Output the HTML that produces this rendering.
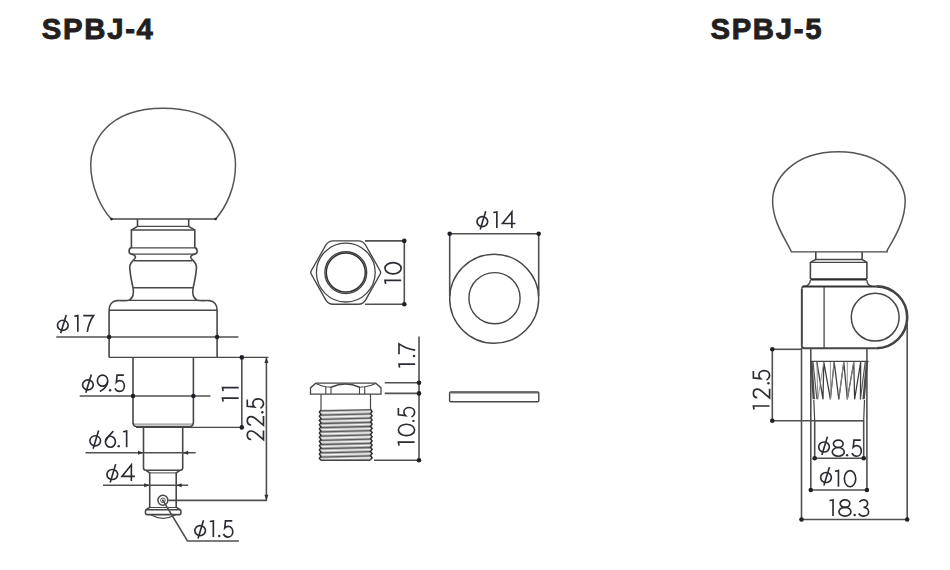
<!DOCTYPE html>
<html><head><meta charset="utf-8">
<style>
html,body{margin:0;padding:0;background:#fff;width:950px;height:570px;overflow:hidden}
svg{position:absolute;left:0;top:0}
text{font-family:"Liberation Sans",sans-serif}
</style></head><body>
<svg width="950" height="570" viewBox="0 0 950 570">
<text x="41.8" y="38.5" font-size="29.3" font-weight="bold" fill="#231f20" stroke="#231f20" stroke-width="0.9" letter-spacing="1.7">SPBJ-4</text>
<text x="710.4" y="38.5" font-size="29.3" font-weight="bold" fill="#231f20" stroke="#231f20" stroke-width="0.9" letter-spacing="1.7">SPBJ-5</text>
<path d="M111.3,219.1 C101,208 90.7,187 90.7,164.0 C90.7,145 105,108.2 163.2,108.2 C218.2,108.2 235.5,139 235.5,165.0 C235.5,188 226,207 215.8,218.9" fill="none" stroke="#555" stroke-width="1.50" />
<line x1="111.30" y1="219.00" x2="215.50" y2="219.00" stroke="#464646" stroke-width="1.30"/>
<circle cx="111.50" cy="219.10" r="1.30" fill="#1e2228"/>
<circle cx="215.60" cy="219.00" r="1.30" fill="#1e2228"/>
<path d="M137.50,219.00 L137.50,226.40 L131.40,230.00 L131.40,247.90" fill="none" stroke="#464646" stroke-width="1.60" />
<path d="M188.70,219.00 L188.70,226.40 L194.80,230.00 L194.80,247.90" fill="none" stroke="#464646" stroke-width="1.60" />
<line x1="137.50" y1="226.40" x2="188.70" y2="226.40" stroke="#474747" stroke-width="1.40"/>
<line x1="131.40" y1="230.00" x2="194.80" y2="230.00" stroke="#474747" stroke-width="1.40"/>
<path d="M131.4,247.9 C128.6,248.2 127.9,253.6 131.6,254.1 C134.6,254.6 136.2,256.4 135.0,258.4 C133.6,260.4 129.8,262.8 129.7,267" fill="none" stroke="#464646" stroke-width="1.60" />
<path d="M131.4,247.9 C128.6,248.2 127.9,253.6 131.6,254.1 C134.6,254.6 136.2,256.4 135.0,258.4 C133.6,260.4 129.8,262.8 129.7,267" fill="none" stroke="#464646" stroke-width="1.60" transform="translate(326.20,0) scale(-1,1)"/>
<line x1="131.40" y1="247.90" x2="194.80" y2="247.90" stroke="#474747" stroke-width="1.40"/>
<line x1="131.80" y1="254.10" x2="194.40" y2="254.10" stroke="#474747" stroke-width="1.40"/>
<line x1="134.00" y1="260.70" x2="192.20" y2="260.70" stroke="#474747" stroke-width="1.40"/>
<path d="M129.7,267 C130.2,276 132,283 133,287.7 C133.8,292 133.8,297.5 129.5,300 C127,301 122,300.4 117,300.6 C112,301 109.1,305 109.1,310.2 L109.1,357.4" fill="none" stroke="#464646" stroke-width="1.60" />
<path d="M129.7,267 C130.2,276 132,283 133,287.7 C133.8,292 133.8,297.5 129.5,300 C127,301 122,300.4 117,300.6 C112,301 109.1,305 109.1,310.2 L109.1,357.4" fill="none" stroke="#464646" stroke-width="1.60" transform="translate(326.20,0) scale(-1,1)"/>
<line x1="133.00" y1="287.70" x2="193.20" y2="287.70" stroke="#474747" stroke-width="1.40"/>
<line x1="129.50" y1="300.40" x2="196.70" y2="300.40" stroke="#474747" stroke-width="1.40"/>
<line x1="109.10" y1="310.20" x2="217.10" y2="310.20" stroke="#474747" stroke-width="1.40"/>
<line x1="109.10" y1="357.40" x2="268.40" y2="357.40" stroke="#464646" stroke-width="1.20"/>
<line x1="56.30" y1="337.00" x2="238.40" y2="337.00" stroke="#505050" stroke-width="1.60"/>
<circle cx="109.10" cy="337.00" r="2.30" fill="#1e2228"/>
<circle cx="217.10" cy="337.00" r="2.30" fill="#1e2228"/>
<path d="M133,357.4 L133,422.5 Q133,426 136,426.5 L190.2,426.5 Q193.4,426 193.4,422.5 L193.4,357.4" fill="none" stroke="#464646" stroke-width="1.60" />
<line x1="134.00" y1="424.10" x2="192.40" y2="424.10" stroke="#666" stroke-width="0.90"/>
<line x1="136.00" y1="427.40" x2="243.00" y2="427.40" stroke="#464646" stroke-width="1.10"/>
<line x1="79.70" y1="396.00" x2="210.50" y2="396.00" stroke="#505050" stroke-width="1.60"/>
<circle cx="133.00" cy="396.00" r="2.30" fill="#1e2228"/>
<circle cx="193.40" cy="396.00" r="2.30" fill="#1e2228"/>
<line x1="241.80" y1="357.40" x2="241.80" y2="427.40" stroke="#505050" stroke-width="1.60"/>
<circle cx="241.80" cy="357.40" r="2.30" fill="#1e2228"/>
<circle cx="241.80" cy="427.40" r="2.30" fill="#1e2228"/>
<line x1="266.40" y1="357.40" x2="266.40" y2="500.40" stroke="#505050" stroke-width="1.60"/>
<polygon points="266.40,357.60 264.40,363.10 268.40,363.10" fill="#333"/>
<polygon points="266.40,500.20 264.40,494.70 268.40,494.70" fill="#333"/>
<line x1="168.50" y1="500.40" x2="267.00" y2="500.40" stroke="#505050" stroke-width="1.60"/>
<path d="M143.5,427.4 L143.5,467.8 Q143.5,470.3 146,470.3 L180.1,470.3 Q182.7,470.3 182.7,467.8 L182.7,427.4" fill="none" stroke="#464646" stroke-width="1.60" />
<line x1="85.50" y1="452.80" x2="195.70" y2="452.80" stroke="#505050" stroke-width="1.60"/>
<polygon points="143.50,452.80 138.00,450.80 138.00,454.80" fill="#333"/>
<polygon points="182.70,452.80 188.20,450.80 188.20,454.80" fill="#333"/>
<path d="M146,470.3 L149.7,472.9 L149.7,507.4 L146,509.7" fill="none" stroke="#464646" stroke-width="1.60" />
<path d="M180.1,470.3 L176.2,472.9 L176.2,507.4 L180.3,509.7" fill="none" stroke="#464646" stroke-width="1.60" />
<line x1="149.70" y1="472.90" x2="176.20" y2="472.90" stroke="#474747" stroke-width="1.00"/>
<line x1="149.70" y1="507.50" x2="176.20" y2="507.50" stroke="#474747" stroke-width="1.00"/>
<line x1="103.00" y1="485.20" x2="188.20" y2="485.20" stroke="#505050" stroke-width="1.60"/>
<polygon points="149.70,485.20 144.20,483.20 144.20,487.20" fill="#333"/>
<polygon points="176.20,485.20 181.70,483.20 181.70,487.20" fill="#333"/>
<path d="M146.5,509.7 L179.8,509.7 Q180.9,509.7 180.9,511 L180.9,513.3 Q180.9,514.6 179.6,514.6 L146.8,514.6 Q145.5,514.6 145.5,513.3 L145.5,511 Q145.5,509.7 146.5,509.7 Z" fill="none" stroke="#464646" stroke-width="1.60" />
<path d="M150.8,514.8 Q163,522 175.5,514.8" fill="none" stroke="#464646" stroke-width="1.20" />
<circle cx="162.90" cy="500.30" r="5.00" fill="none" stroke="#464646" stroke-width="1.50"/>
<circle cx="162.90" cy="500.30" r="2.30" fill="none" stroke="#555" stroke-width="1.00"/>
<circle cx="162.90" cy="500.30" r="0.90" fill="#1e2228"/>
<path d="M162.9,500.3 L187.5,541 L239,541" fill="none" stroke="#505050" stroke-width="1.60" />
<path d="M311.28,274.24 Q310.30,272.50 311.29,270.76 L325.74,245.25 Q328.20,240.90 333.20,240.90 L358.20,240.90 Q363.20,240.90 365.66,245.25 L380.11,270.76 Q381.10,272.50 380.12,274.24 L365.66,299.85 Q363.20,304.20 358.20,304.20 L333.20,304.20 Q328.20,304.20 325.74,299.85Z" fill="none" stroke="#464646" stroke-width="1.40" />
<circle cx="345.80" cy="272.60" r="29.40" fill="none" stroke="#464646" stroke-width="1.30"/>
<circle cx="345.80" cy="272.60" r="19.50" fill="none" stroke="#333" stroke-width="1.50"/>
<circle cx="345.80" cy="272.60" r="20.90" fill="none" stroke="#444" stroke-width="1.40"/>
<line x1="365.00" y1="240.90" x2="404.30" y2="240.90" stroke="#505050" stroke-width="1.60"/>
<line x1="365.00" y1="304.20" x2="404.30" y2="304.20" stroke="#505050" stroke-width="1.60"/>
<line x1="404.30" y1="240.90" x2="404.30" y2="304.20" stroke="#505050" stroke-width="1.60"/>
<circle cx="404.30" cy="240.90" r="2.30" fill="#1e2228"/>
<circle cx="404.30" cy="304.20" r="2.30" fill="#1e2228"/>
<circle cx="494.20" cy="298.70" r="44.50" fill="none" stroke="#464646" stroke-width="1.40"/>
<circle cx="494.50" cy="298.20" r="25.60" fill="none" stroke="#464646" stroke-width="1.40"/>
<line x1="449.70" y1="233.70" x2="538.70" y2="233.70" stroke="#505050" stroke-width="1.60"/>
<line x1="449.70" y1="233.70" x2="449.70" y2="296.00" stroke="#505050" stroke-width="1.60"/>
<line x1="538.70" y1="233.70" x2="538.70" y2="296.00" stroke="#505050" stroke-width="1.60"/>
<circle cx="449.70" cy="233.70" r="2.30" fill="#1e2228"/>
<circle cx="538.70" cy="233.70" r="2.30" fill="#1e2228"/>
<path d="M315.8,383.2 L375.8,383.2 L381,387.9 L381,394.2 L310.5,394.2 L310.5,387.9 Z" fill="none" stroke="#464646" stroke-width="1.30" />
<line x1="325.80" y1="386.80" x2="325.80" y2="394.20" stroke="#464646" stroke-width="1.10"/>
<line x1="331.00" y1="386.80" x2="331.00" y2="394.20" stroke="#464646" stroke-width="1.10"/>
<line x1="359.50" y1="386.80" x2="359.50" y2="394.20" stroke="#464646" stroke-width="1.10"/>
<line x1="364.70" y1="386.80" x2="364.70" y2="394.20" stroke="#464646" stroke-width="1.10"/>
<path d="M331,387.2 Q345.5,380.6 359.5,387.2" fill="none" stroke="#464646" stroke-width="1.50" />
<path d="M315.8,383.4 Q322,386.2 325.8,386.8 L331,387.2" fill="none" stroke="#464646" stroke-width="1.10" />
<path d="M375.8,383.4 Q369.5,386.2 364.7,386.8 L359.5,387.2" fill="none" stroke="#464646" stroke-width="1.10" />
<line x1="321.00" y1="394.20" x2="321.00" y2="410.40" stroke="#464646" stroke-width="1.20"/>
<line x1="370.50" y1="394.20" x2="370.50" y2="409.40" stroke="#464646" stroke-width="1.20"/>
<rect x="321" y="409.5" width="49.5" height="50.5" fill="#b8b8b8"/>
<line x1="321.00" y1="410.90" x2="370.50" y2="409.70" stroke="#5e5e5e" stroke-width="1.30"/>
<line x1="321.00" y1="412.90" x2="370.50" y2="411.70" stroke="#f4f4f4" stroke-width="1.10"/>
<line x1="321.00" y1="415.10" x2="370.50" y2="413.90" stroke="#5e5e5e" stroke-width="1.30"/>
<line x1="321.00" y1="417.10" x2="370.50" y2="415.90" stroke="#f4f4f4" stroke-width="1.10"/>
<line x1="321.00" y1="419.30" x2="370.50" y2="418.10" stroke="#5e5e5e" stroke-width="1.30"/>
<line x1="321.00" y1="421.30" x2="370.50" y2="420.10" stroke="#f4f4f4" stroke-width="1.10"/>
<line x1="321.00" y1="423.50" x2="370.50" y2="422.30" stroke="#5e5e5e" stroke-width="1.30"/>
<line x1="321.00" y1="425.50" x2="370.50" y2="424.30" stroke="#f4f4f4" stroke-width="1.10"/>
<line x1="321.00" y1="427.70" x2="370.50" y2="426.50" stroke="#5e5e5e" stroke-width="1.30"/>
<line x1="321.00" y1="429.70" x2="370.50" y2="428.50" stroke="#f4f4f4" stroke-width="1.10"/>
<line x1="321.00" y1="431.90" x2="370.50" y2="430.70" stroke="#5e5e5e" stroke-width="1.30"/>
<line x1="321.00" y1="433.90" x2="370.50" y2="432.70" stroke="#f4f4f4" stroke-width="1.10"/>
<line x1="321.00" y1="436.10" x2="370.50" y2="434.90" stroke="#5e5e5e" stroke-width="1.30"/>
<line x1="321.00" y1="438.10" x2="370.50" y2="436.90" stroke="#f4f4f4" stroke-width="1.10"/>
<line x1="321.00" y1="440.30" x2="370.50" y2="439.10" stroke="#5e5e5e" stroke-width="1.30"/>
<line x1="321.00" y1="442.30" x2="370.50" y2="441.10" stroke="#f4f4f4" stroke-width="1.10"/>
<line x1="321.00" y1="444.50" x2="370.50" y2="443.30" stroke="#5e5e5e" stroke-width="1.30"/>
<line x1="321.00" y1="446.50" x2="370.50" y2="445.30" stroke="#f4f4f4" stroke-width="1.10"/>
<line x1="321.00" y1="448.70" x2="370.50" y2="447.50" stroke="#5e5e5e" stroke-width="1.30"/>
<line x1="321.00" y1="450.70" x2="370.50" y2="449.50" stroke="#f4f4f4" stroke-width="1.10"/>
<line x1="321.00" y1="452.90" x2="370.50" y2="451.70" stroke="#5e5e5e" stroke-width="1.30"/>
<line x1="321.00" y1="454.90" x2="370.50" y2="453.70" stroke="#f4f4f4" stroke-width="1.10"/>
<line x1="321.00" y1="457.10" x2="370.50" y2="455.90" stroke="#5e5e5e" stroke-width="1.30"/>
<line x1="321.00" y1="459.10" x2="370.50" y2="457.90" stroke="#f4f4f4" stroke-width="1.10"/>
<line x1="321.00" y1="460.20" x2="370.50" y2="460.20" stroke="#464646" stroke-width="1.40"/>
<path d="M321,410 L319.4,412.10 L321,414.20 L319.4,416.30 L321,418.40 L319.4,420.50 L321,422.60 L319.4,424.70 L321,426.80 L319.4,428.90 L321,431.00 L319.4,433.10 L321,435.20 L319.4,437.30 L321,439.40 L319.4,441.50 L321,443.60 L319.4,445.70 L321,447.80 L319.4,449.90 L321,452.00 L319.4,454.10 L321,456.20 L319.4,458.30 L321,460.40" fill="none" stroke="#2e2e2e" stroke-width="1.50" />
<path d="M370.5,409.2 L372.1,411.50 L370.5,413.60 L372.1,415.70 L370.5,417.80 L372.1,419.90 L370.5,422.00 L372.1,424.10 L370.5,426.20 L372.1,428.30 L370.5,430.40 L372.1,432.50 L370.5,434.60 L372.1,436.70 L370.5,438.80 L372.1,440.90 L370.5,443.00 L372.1,445.10 L370.5,447.20 L372.1,449.30 L370.5,451.40 L372.1,453.50 L370.5,455.60 L372.1,457.70 L370.5,459.80" fill="none" stroke="#2e2e2e" stroke-width="1.50" />
<line x1="419.00" y1="336.60" x2="419.00" y2="460.30" stroke="#505050" stroke-width="1.60"/>
<line x1="384.70" y1="382.80" x2="419.00" y2="382.80" stroke="#505050" stroke-width="1.60"/>
<line x1="384.70" y1="393.40" x2="419.00" y2="393.40" stroke="#505050" stroke-width="1.60"/>
<line x1="374.00" y1="460.30" x2="419.00" y2="460.30" stroke="#505050" stroke-width="1.60"/>
<circle cx="419.00" cy="382.80" r="2.30" fill="#1e2228"/>
<circle cx="419.00" cy="393.40" r="2.30" fill="#1e2228"/>
<circle cx="419.00" cy="460.30" r="2.30" fill="#1e2228"/>
<rect x="449.6" y="391.9" width="89.2" height="9.9" rx="1.2" fill="none" stroke="#464646" stroke-width="1.4"/>
<line x1="450.50" y1="392.80" x2="538.00" y2="392.80" stroke="#666" stroke-width="1.60"/>
<path d="M791.2,251.4 C786,240 772.6,222 772.6,201.0 C772.6,181.0 791.5,151.7 838.5,151.7 C883.5,151.7 905.2,181.0 905.2,201.0 C905.2,222 893,240 886.6,251.4" fill="none" stroke="#555" stroke-width="1.50" />
<line x1="790.70" y1="251.90" x2="887.90" y2="251.90" stroke="#464646" stroke-width="1.30"/>
<path d="M815.8,251.9 L815.8,259.5 L810.4,262.4 L810.4,279" fill="none" stroke="#464646" stroke-width="1.60" />
<path d="M862.1,251.9 L862.1,259.5 L866.9,262.4 L866.9,279" fill="none" stroke="#464646" stroke-width="1.60" />
<line x1="815.80" y1="259.50" x2="862.10" y2="259.50" stroke="#474747" stroke-width="1.40"/>
<line x1="810.40" y1="262.40" x2="866.90" y2="262.40" stroke="#474747" stroke-width="1.40"/>
<line x1="810.40" y1="279.40" x2="866.90" y2="279.40" stroke="#2a2a2a" stroke-width="2.40"/>
<path d="M810.4,280 C810.4,284 807,286.3 803.5,286.5 C802,286.6 801.8,288 801.8,289 L801.8,344" fill="none" stroke="#464646" stroke-width="1.30" />
<path d="M866.9,280 C866.9,283 868.5,285.5 872,286.3" fill="none" stroke="#464646" stroke-width="1.30" />
<line x1="802.50" y1="286.50" x2="876.50" y2="286.50" stroke="#333" stroke-width="2.00"/>
<path d="M801.8,289 L801.8,345.8 Q801.8,348.2 804,348.2 L876.3,348.2" fill="none" stroke="#464646" stroke-width="1.90" />
<path d="M876.3,286.4 A30.9,30.9 0 0 1 876.3,348.2" fill="none" stroke="#444" stroke-width="2.60" />
<line x1="824.10" y1="287.00" x2="824.10" y2="348.00" stroke="#474747" stroke-width="1.30"/>
<circle cx="875.20" cy="317.20" r="23.90" fill="none" stroke="#464646" stroke-width="1.50"/>
<line x1="907.20" y1="322.00" x2="907.20" y2="520.00" stroke="#505050" stroke-width="1.60"/>
<line x1="801.50" y1="348.00" x2="801.50" y2="520.00" stroke="#505050" stroke-width="1.60"/>
<line x1="810.80" y1="348.40" x2="810.80" y2="490.00" stroke="#505050" stroke-width="1.60"/>
<line x1="866.90" y1="348.40" x2="866.90" y2="490.00" stroke="#505050" stroke-width="1.60"/>
<line x1="810.00" y1="361.40" x2="868.50" y2="361.40" stroke="#464646" stroke-width="1.40"/>
<path d="M816.9,362 L823,399.3 L823.8,362 L830.4,399.3 L834.2,362 L838.8,399.3 L843.8,362 L847.3,399.3 L853.8,362 L854.6,399.3 L860.7,362 L860.4,399.3" fill="none" stroke="#3a3a3a" stroke-width="1.25" />
<path d="M816.9,362 L817.8,399.3 M830.4,362 L830.4,399.3 M834.2,362 L830.4,399.3 M843.8,362 L838.8,399.3 M847.3,362 L847.3,399.3 M853.8,362 L847.3,399.3 M823.8,362 L817.8,399.3" fill="none" stroke="#888" stroke-width="0.90" />
<path d="M810.3,362 L812.6,362 L815,399.3 L812.6,399.3 Z" fill="#4a4a4a"/>
<path d="M868.2,362 L865.8,362 L862.4,399.3 L864.8,399.3 Z" fill="#4a4a4a"/>
<path d="M813,362 L816.9,399.3 M865.2,362 L860.4,399.3" fill="none" stroke="#555" stroke-width="1.20" />
<path d="M813.8,400 L814.7,420.6 L863.7,420.6 L864.5,400" fill="none" stroke="#464646" stroke-width="1.20" />
<line x1="772.30" y1="349.30" x2="801.50" y2="349.30" stroke="#505050" stroke-width="1.60"/>
<line x1="772.30" y1="420.80" x2="863.70" y2="420.80" stroke="#505050" stroke-width="1.60"/>
<line x1="772.30" y1="349.30" x2="772.30" y2="420.80" stroke="#505050" stroke-width="1.60"/>
<circle cx="772.30" cy="349.30" r="2.30" fill="#1e2228"/>
<circle cx="772.30" cy="420.80" r="2.30" fill="#1e2228"/>
<line x1="814.70" y1="420.60" x2="814.70" y2="458.30" stroke="#505050" stroke-width="1.60"/>
<line x1="863.70" y1="420.60" x2="863.70" y2="458.30" stroke="#505050" stroke-width="1.60"/>
<line x1="814.70" y1="458.30" x2="863.70" y2="458.30" stroke="#505050" stroke-width="1.60"/>
<circle cx="814.70" cy="458.30" r="2.30" fill="#1e2228"/>
<circle cx="863.70" cy="458.30" r="2.30" fill="#1e2228"/>
<line x1="810.80" y1="490.00" x2="866.90" y2="490.00" stroke="#505050" stroke-width="1.60"/>
<circle cx="810.80" cy="490.00" r="2.30" fill="#1e2228"/>
<circle cx="866.90" cy="490.00" r="2.30" fill="#1e2228"/>
<line x1="801.50" y1="519.50" x2="907.20" y2="519.50" stroke="#505050" stroke-width="1.60"/>
<circle cx="801.50" cy="519.50" r="2.30" fill="#1e2228"/>
<circle cx="907.20" cy="519.50" r="2.30" fill="#1e2228"/>
<g transform="translate(57.47,315.57) scale(0.1620)" fill="none" stroke="#2a2c32" stroke-width="10.19" stroke-linecap="butt" stroke-linejoin="miter"><ellipse cx="33" cy="60" rx="33" ry="31"/><path d="M54,-4 L20,109"/></g>
<g transform="translate(74.27,315.57) scale(0.1620)" fill="none" stroke="#2a2c32" stroke-width="10.19" stroke-linecap="butt" stroke-linejoin="miter"><path d="M0,4 L22,0 L22,100"/></g>
<g transform="translate(83.27,315.57) scale(0.1620)" fill="none" stroke="#2a2c32" stroke-width="10.19" stroke-linecap="butt" stroke-linejoin="miter"><path d="M0,0 L64,0 C47,25 31,60 25,100"/></g>
<g transform="translate(82.58,375.18) scale(0.1620)" fill="none" stroke="#2a2c32" stroke-width="10.19" stroke-linecap="butt" stroke-linejoin="miter"><ellipse cx="33" cy="60" rx="33" ry="31"/><path d="M54,-4 L20,109"/></g>
<g transform="translate(97.38,375.18) scale(0.1620)" fill="none" stroke="#2a2c32" stroke-width="10.19" stroke-linecap="butt" stroke-linejoin="miter"><ellipse cx="32" cy="34" rx="32" ry="34"/><path d="M63.5,42 C60,66 42,88 15,100"/></g>
<g transform="translate(109.00,375.18) scale(0.1620)" fill="none" stroke="#2a2c32" stroke-width="10.19" stroke-linecap="butt" stroke-linejoin="miter"><circle cx="7" cy="93" r="7.5" fill="#2a2c32" stroke="none"/></g>
<g transform="translate(114.97,375.18) scale(0.1620)" fill="none" stroke="#2a2c32" stroke-width="10.19" stroke-linecap="butt" stroke-linejoin="miter"><path d="M55,0 L13,0 L8.5,44 C14,38 22,34 30,34 C47,34 58,48 58,67 C58,86 46,100 29,100 C16,100 6,92 0,81"/></g>
<g transform="translate(89.88,431.07) scale(0.1620)" fill="none" stroke="#2a2c32" stroke-width="10.19" stroke-linecap="butt" stroke-linejoin="miter"><ellipse cx="33" cy="60" rx="33" ry="31"/><path d="M54,-4 L20,109"/></g>
<g transform="translate(105.38,431.07) scale(0.1620)" fill="none" stroke="#2a2c32" stroke-width="10.19" stroke-linecap="butt" stroke-linejoin="miter"><ellipse cx="31" cy="66" rx="31" ry="34"/><path d="M49,0 C30,18 12,38 0.5,62"/></g>
<g transform="translate(117.60,431.07) scale(0.1620)" fill="none" stroke="#2a2c32" stroke-width="10.19" stroke-linecap="butt" stroke-linejoin="miter"><circle cx="7" cy="93" r="7.5" fill="#2a2c32" stroke="none"/></g>
<g transform="translate(123.08,431.07) scale(0.1620)" fill="none" stroke="#2a2c32" stroke-width="10.19" stroke-linecap="butt" stroke-linejoin="miter"><path d="M0,4 L22,0 L22,100"/></g>
<g transform="translate(106.97,464.78) scale(0.1620)" fill="none" stroke="#2a2c32" stroke-width="10.19" stroke-linecap="butt" stroke-linejoin="miter"><ellipse cx="33" cy="60" rx="33" ry="31"/><path d="M54,-4 L20,109"/></g>
<g transform="translate(121.97,464.78) scale(0.1620)" fill="none" stroke="#2a2c32" stroke-width="10.19" stroke-linecap="butt" stroke-linejoin="miter"><path d="M58,100 L58,0 L0,72 L80,72"/></g>
<g transform="translate(194.78,520.88) scale(0.1620)" fill="none" stroke="#2a2c32" stroke-width="10.19" stroke-linecap="butt" stroke-linejoin="miter"><ellipse cx="33" cy="60" rx="33" ry="31"/><path d="M54,-4 L20,109"/></g>
<g transform="translate(209.78,520.88) scale(0.1620)" fill="none" stroke="#2a2c32" stroke-width="10.19" stroke-linecap="butt" stroke-linejoin="miter"><path d="M0,4 L22,0 L22,100"/></g>
<g transform="translate(218.10,520.88) scale(0.1620)" fill="none" stroke="#2a2c32" stroke-width="10.19" stroke-linecap="butt" stroke-linejoin="miter"><circle cx="7" cy="93" r="7.5" fill="#2a2c32" stroke="none"/></g>
<g transform="translate(223.38,520.88) scale(0.1620)" fill="none" stroke="#2a2c32" stroke-width="10.19" stroke-linecap="butt" stroke-linejoin="miter"><path d="M55,0 L13,0 L8.5,44 C14,38 22,34 30,34 C47,34 58,48 58,67 C58,86 46,100 29,100 C16,100 6,92 0,81"/></g>
<g transform="translate(476.98,211.88) scale(0.1620)" fill="none" stroke="#2a2c32" stroke-width="10.19" stroke-linecap="butt" stroke-linejoin="miter"><ellipse cx="33" cy="60" rx="33" ry="31"/><path d="M54,-4 L20,109"/></g>
<g transform="translate(493.28,211.88) scale(0.1620)" fill="none" stroke="#2a2c32" stroke-width="10.19" stroke-linecap="butt" stroke-linejoin="miter"><path d="M0,4 L22,0 L22,100"/></g>
<g transform="translate(502.48,211.88) scale(0.1620)" fill="none" stroke="#2a2c32" stroke-width="10.19" stroke-linecap="butt" stroke-linejoin="miter"><path d="M58,100 L58,0 L0,72 L80,72"/></g>
<g transform="translate(818.67,437.27) scale(0.1620)" fill="none" stroke="#2a2c32" stroke-width="10.19" stroke-linecap="butt" stroke-linejoin="miter"><ellipse cx="33" cy="60" rx="33" ry="31"/><path d="M54,-4 L20,109"/></g>
<g transform="translate(832.27,440.07) scale(0.1620)" fill="none" stroke="#2a2c32" stroke-width="10.19" stroke-linecap="butt" stroke-linejoin="miter"><ellipse cx="37" cy="23" rx="30" ry="23"/><ellipse cx="37" cy="73" rx="37" ry="27"/></g>
<g transform="translate(846.00,440.07) scale(0.1620)" fill="none" stroke="#2a2c32" stroke-width="10.19" stroke-linecap="butt" stroke-linejoin="miter"><circle cx="7" cy="93" r="7.5" fill="#2a2c32" stroke="none"/></g>
<g transform="translate(851.88,440.07) scale(0.1620)" fill="none" stroke="#2a2c32" stroke-width="10.19" stroke-linecap="butt" stroke-linejoin="miter"><path d="M55,0 L13,0 L8.5,44 C14,38 22,34 30,34 C47,34 58,48 58,67 C58,86 46,100 29,100 C16,100 6,92 0,81"/></g>
<g transform="translate(820.67,467.77) scale(0.1620)" fill="none" stroke="#2a2c32" stroke-width="10.19" stroke-linecap="butt" stroke-linejoin="miter"><ellipse cx="33" cy="60" rx="33" ry="31"/><path d="M54,-4 L20,109"/></g>
<g transform="translate(834.88,470.57) scale(0.1620)" fill="none" stroke="#2a2c32" stroke-width="10.19" stroke-linecap="butt" stroke-linejoin="miter"><path d="M0,4 L22,0 L22,100"/></g>
<g transform="translate(844.38,470.57) scale(0.1620)" fill="none" stroke="#2a2c32" stroke-width="10.19" stroke-linecap="butt" stroke-linejoin="miter"><ellipse cx="35" cy="50" rx="35" ry="50"/></g>
<g transform="translate(829.47,499.88) scale(0.1620)" fill="none" stroke="#2a2c32" stroke-width="10.19" stroke-linecap="butt" stroke-linejoin="miter"><path d="M0,4 L22,0 L22,100"/></g>
<g transform="translate(838.97,499.88) scale(0.1620)" fill="none" stroke="#2a2c32" stroke-width="10.19" stroke-linecap="butt" stroke-linejoin="miter"><ellipse cx="37" cy="23" rx="30" ry="23"/><ellipse cx="37" cy="73" rx="37" ry="27"/></g>
<g transform="translate(853.50,499.88) scale(0.1620)" fill="none" stroke="#2a2c32" stroke-width="10.19" stroke-linecap="butt" stroke-linejoin="miter"><circle cx="7" cy="93" r="7.5" fill="#2a2c32" stroke="none"/></g>
<g transform="translate(858.57,499.88) scale(0.1620)" fill="none" stroke="#2a2c32" stroke-width="10.19" stroke-linecap="butt" stroke-linejoin="miter"><path d="M5,14 C11,5 20,0 31,0 C45,0 56,10 56,23 C56,36 45,46 30,46 C49,46 62,58 62,73 C62,89 49,100 31,100 C18,100 7,94 1,84"/></g>
<g transform="translate(222.48,401.62) rotate(-90) scale(0.1620)" fill="none" stroke="#2a2c32" stroke-width="10.19" stroke-linecap="butt" stroke-linejoin="miter"><path d="M0,4 L22,0 L22,100"/></g>
<g transform="translate(222.48,391.12) rotate(-90) scale(0.1620)" fill="none" stroke="#2a2c32" stroke-width="10.19" stroke-linecap="butt" stroke-linejoin="miter"><path d="M0,4 L22,0 L22,100"/></g>
<g transform="translate(247.28,439.72) rotate(-90) scale(0.1620)" fill="none" stroke="#2a2c32" stroke-width="10.19" stroke-linecap="butt" stroke-linejoin="miter"><path d="M2,24 C2,10 13,0 28,0 C43,0 54,10 54,25 C54,36 48,44 40,53 L0,100 L57,100"/></g>
<g transform="translate(247.28,425.32) rotate(-90) scale(0.1620)" fill="none" stroke="#2a2c32" stroke-width="10.19" stroke-linecap="butt" stroke-linejoin="miter"><path d="M2,24 C2,10 13,0 28,0 C43,0 54,10 54,25 C54,36 48,44 40,53 L0,100 L57,100"/></g>
<g transform="translate(247.28,413.30) rotate(-90) scale(0.1620)" fill="none" stroke="#2a2c32" stroke-width="10.19" stroke-linecap="butt" stroke-linejoin="miter"><circle cx="7" cy="93" r="7.5" fill="#2a2c32" stroke="none"/></g>
<g transform="translate(247.28,408.32) rotate(-90) scale(0.1620)" fill="none" stroke="#2a2c32" stroke-width="10.19" stroke-linecap="butt" stroke-linejoin="miter"><path d="M55,0 L13,0 L8.5,44 C14,38 22,34 30,34 C47,34 58,48 58,67 C58,86 46,100 29,100 C16,100 6,92 0,81"/></g>
<g transform="translate(384.98,283.93) rotate(-90) scale(0.1620)" fill="none" stroke="#2a2c32" stroke-width="10.19" stroke-linecap="butt" stroke-linejoin="miter"><path d="M0,4 L22,0 L22,100"/></g>
<g transform="translate(384.98,273.93) rotate(-90) scale(0.1620)" fill="none" stroke="#2a2c32" stroke-width="10.19" stroke-linecap="butt" stroke-linejoin="miter"><ellipse cx="35" cy="50" rx="35" ry="50"/></g>
<g transform="translate(398.98,367.72) rotate(-90) scale(0.1620)" fill="none" stroke="#2a2c32" stroke-width="10.19" stroke-linecap="butt" stroke-linejoin="miter"><path d="M0,4 L22,0 L22,100"/></g>
<g transform="translate(398.98,357.10) rotate(-90) scale(0.1620)" fill="none" stroke="#2a2c32" stroke-width="10.19" stroke-linecap="butt" stroke-linejoin="miter"><circle cx="7" cy="93" r="7.5" fill="#2a2c32" stroke="none"/></g>
<g transform="translate(398.98,354.22) rotate(-90) scale(0.1620)" fill="none" stroke="#2a2c32" stroke-width="10.19" stroke-linecap="butt" stroke-linejoin="miter"><path d="M0,0 L64,0 C47,25 31,60 25,100"/></g>
<g transform="translate(398.38,445.72) rotate(-90) scale(0.1620)" fill="none" stroke="#2a2c32" stroke-width="10.19" stroke-linecap="butt" stroke-linejoin="miter"><path d="M0,4 L22,0 L22,100"/></g>
<g transform="translate(398.38,435.62) rotate(-90) scale(0.1620)" fill="none" stroke="#2a2c32" stroke-width="10.19" stroke-linecap="butt" stroke-linejoin="miter"><ellipse cx="35" cy="50" rx="35" ry="50"/></g>
<g transform="translate(398.38,422.00) rotate(-90) scale(0.1620)" fill="none" stroke="#2a2c32" stroke-width="10.19" stroke-linecap="butt" stroke-linejoin="miter"><circle cx="7" cy="93" r="7.5" fill="#2a2c32" stroke="none"/></g>
<g transform="translate(398.38,416.93) rotate(-90) scale(0.1620)" fill="none" stroke="#2a2c32" stroke-width="10.19" stroke-linecap="butt" stroke-linejoin="miter"><path d="M55,0 L13,0 L8.5,44 C14,38 22,34 30,34 C47,34 58,48 58,67 C58,86 46,100 29,100 C16,100 6,92 0,81"/></g>
<g transform="translate(753.38,409.52) rotate(-90) scale(0.1620)" fill="none" stroke="#2a2c32" stroke-width="10.19" stroke-linecap="butt" stroke-linejoin="miter"><path d="M0,4 L22,0 L22,100"/></g>
<g transform="translate(753.38,397.93) rotate(-90) scale(0.1620)" fill="none" stroke="#2a2c32" stroke-width="10.19" stroke-linecap="butt" stroke-linejoin="miter"><path d="M2,24 C2,10 13,0 28,0 C43,0 54,10 54,25 C54,36 48,44 40,53 L0,100 L57,100"/></g>
<g transform="translate(753.38,384.30) rotate(-90) scale(0.1620)" fill="none" stroke="#2a2c32" stroke-width="10.19" stroke-linecap="butt" stroke-linejoin="miter"><circle cx="7" cy="93" r="7.5" fill="#2a2c32" stroke="none"/></g>
<g transform="translate(753.38,380.02) rotate(-90) scale(0.1620)" fill="none" stroke="#2a2c32" stroke-width="10.19" stroke-linecap="butt" stroke-linejoin="miter"><path d="M55,0 L13,0 L8.5,44 C14,38 22,34 30,34 C47,34 58,48 58,67 C58,86 46,100 29,100 C16,100 6,92 0,81"/></g>
</svg>
</body></html>
